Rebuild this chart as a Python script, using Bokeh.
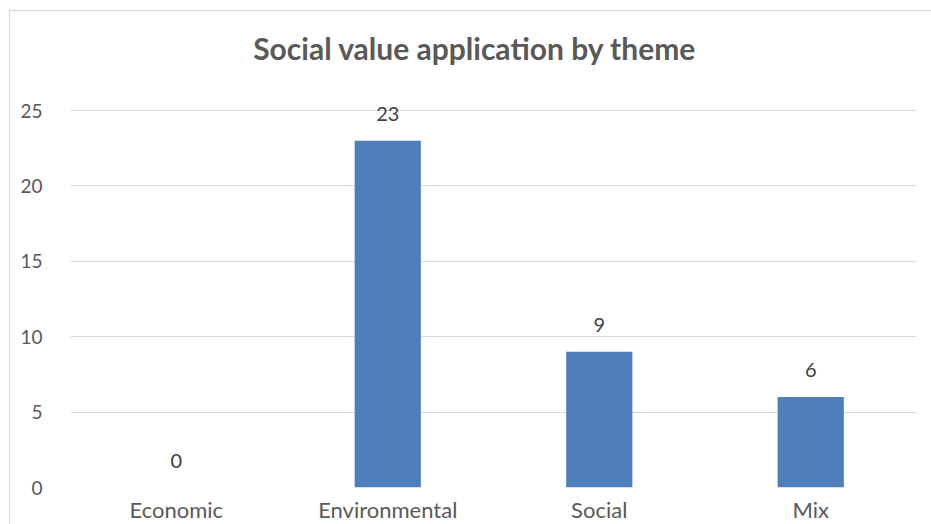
from bokeh.plotting import figure
from bokeh.models import ColumnDataSource, Label, FixedTicker
from bokeh.core.properties import value
from bokeh.embed import file_html
from bokeh.resources import INLINE

categories = ["Economic", "Environmental", "Social", "Mix"]
counts = [0, 23, 9, 6]
y_ticks = [0, 5, 10, 15, 20, 25]
title_text = "Social value application by theme"

FONT = "Lato"
GREY = "#595959"

# layout: value axis 0..25 spans 377px; frame extended upward to host the title
AXIS_PX = 377.0
HEADROOM_PX = 89.0
y_top = max(y_ticks) * (AXIS_PX + HEADROOM_PX) / AXIS_PX

src = ColumnDataSource(dict(cat=categories, val=counts, lab=[str(v) for v in counts]))

p = figure(x_range=categories, y_range=(0, y_top), width=921, height=513,
           output_backend="svg", toolbar_location=None,
           min_border_left=60, min_border_right=16, min_border_top=10, min_border_bottom=37)
p.title = None

p.vbar(x="cat", top="val", width=0.313, source=src, fill_color="#4f7fbb",
       line_color=None)
p.text(x="cat", y="val", text="lab", source=src, y_offset=-27,
       text_align="center", text_baseline="alphabetic", text_font=value(FONT),
       text_font_size="20px", text_color="#404040")

p.add_layout(Label(x=1.9125, y=max(y_ticks), y_offset=63, text=title_text,
                   text_align="center", text_baseline="alphabetic",
                   text_font=FONT, text_font_size="30px", text_font_style="bold",
                   text_color=GREY))

p.outline_line_color = None
p.background_fill_color = "white"
p.border_fill_color = "white"
p.xgrid.grid_line_color = None
p.ygrid.grid_line_color = "#d9d9d9"
p.ygrid.grid_line_width = 1
p.yaxis.ticker = FixedTicker(ticks=y_ticks)
for ax in (p.xaxis[0], p.yaxis[0]):
    ax.axis_line_color = None
    ax.major_tick_line_color = None
    ax.minor_tick_line_color = None
    ax.major_label_text_font = FONT
    ax.major_label_text_color = GREY
p.yaxis.major_label_text_font_size = "19px"
p.xaxis.major_label_text_font_size = "22px"
p.xaxis.major_label_text_line_height = 1.0
p.yaxis.major_label_standoff = 22
p.xaxis.major_label_standoff = 2
p.styles = {"box-sizing": "content-box", "margin-left": "9px", "margin-top": "10px",
            "border-left": "1px solid #d9d9d9", "border-top": "1px solid #d9d9d9"}

open("out.html", "w").write(file_html(p, INLINE))
